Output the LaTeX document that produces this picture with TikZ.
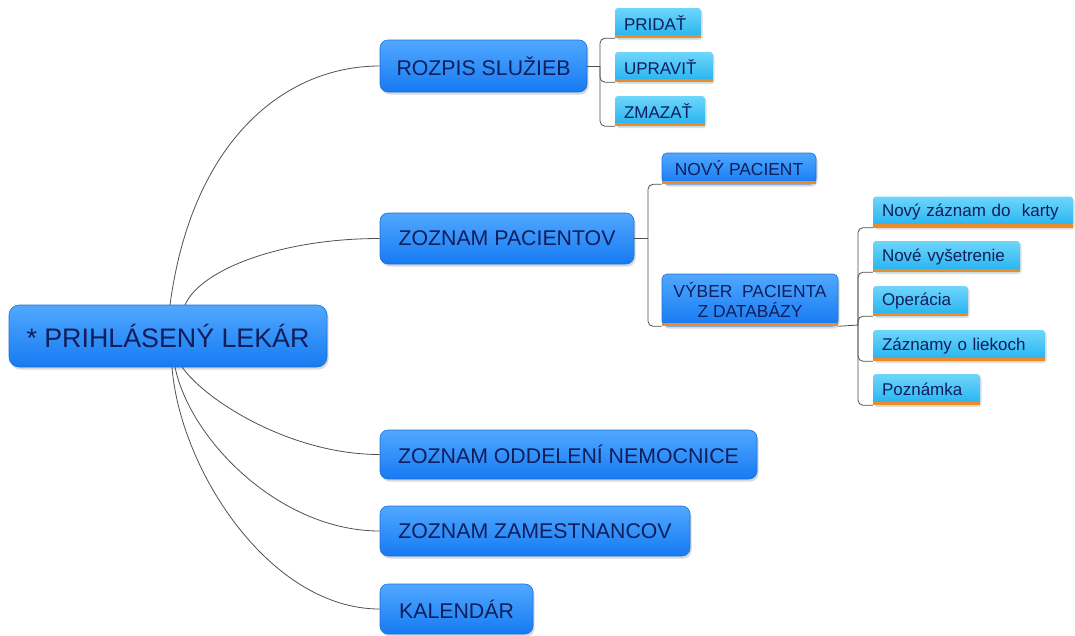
\documentclass[tikz,border=0pt]{standalone}
\usepackage{fontspec}
\setmainfont{Liberation Sans}
\usetikzlibrary{shadows}

\definecolor{navy}{RGB}{16,30,92}
\definecolor{linegray}{RGB}{80,80,80}
\definecolor{bluetop}{RGB}{80,168,255}
\definecolor{bluebot}{RGB}{22,122,242}
\definecolor{blueedge}{RGB}{30,110,215}
\definecolor{cyantop}{RGB}{110,214,250}
\definecolor{cyanbot}{RGB}{35,178,240}
\definecolor{tab}{RGB}{236,140,40}

\tikzset{
  mainbox/.style={rounded corners=8pt, top color=bluetop, bottom color=bluebot,
    draw=blueedge, line width=0.6pt, text=navy, inner sep=0pt,
    drop shadow={opacity=0.3, shadow xshift=1.5pt, shadow yshift=-2.5pt},
    font=\fontsize{21.3}{24}\selectfont},
  rootbox/.style={mainbox, rounded corners=10pt, font=\fontsize{26.8}{30}\selectfont},
  subbox/.style={mainbox, rounded corners=5pt, font=\fontsize{17.4}{19.5}\selectfont, align=center},
  leaf/.style 2 args={rounded corners=3pt, top color=cyantop, bottom color=cyanbot,
    text=navy, inner xsep=9pt, inner ysep=0pt, minimum height=#2,
    text width=#1-18pt, align=left,
    drop shadow={opacity=0.25, shadow xshift=1.5pt, shadow yshift=-2pt},
    font=\fontsize{17}{19}\selectfont},
  conn/.style={draw=linegray, line width=0.8pt},
  tabline/.style={draw=tab, line width=3.5pt},
}

\begin{document}
\begin{tikzpicture}[x=1pt, y=-1pt]
\useasboundingbox (0,0) rectangle (1075,635);

% central node and first-level branches
\node[rootbox, minimum width=318, minimum height=62] (root) at (168,336) {* PRIHLÁSENÝ LEKÁR};
\node[mainbox, minimum width=207, minimum height=52] (rozpis) at (483.5,66) {ROZPIS SLUŽIEB};
\node[mainbox, minimum width=254, minimum height=51] (pacienti) at (507,238.5) {ZOZNAM PACIENTOV};
\node[mainbox, minimum width=377, minimum height=49] (oddelenia) at (568.5,454.5) {ZOZNAM ODDELENÍ NEMOCNICE};
\node[mainbox, minimum width=310, minimum height=50] (zamestnanci) at (535,531) {ZOZNAM ZAMESTNANCOV};
\node[mainbox, minimum width=153, minimum height=50] (kalendar) at (456.5,609) {KALENDÁR};

% actions of the duty roster
\node[leaf={86pt}{30pt}] (pridat) at (658,23) {PRIDAŤ};
\node[leaf={98pt}{30pt}] (upravit) at (664,67) {UPRAVIŤ};
\node[leaf={90pt}{30pt}] (zmazat) at (660,111) {ZMAZAŤ};

% patient list
\node[subbox, minimum width=154, minimum height=31] (novy) at (739,168.5) {NOVÝ PACIENT};
\node[subbox, minimum width=176, minimum height=52] (vyber) at (750,300) {VÝBER\ \ PACIENTA\\Z DATABÁZY};

% records of the selected patient
\node[leaf={200pt}{31pt}] (zaznam) at (973,212) {Nový záznam do\ \ karty};
\node[leaf={147pt}{31pt}] (vysetrenie) at (946.5,256.5) {Nové vyšetrenie};
\node[leaf={95pt}{30pt}] (operacia) at (920.5,301) {Operácia};
\node[leaf={172pt}{31pt}] (lieky) at (959,345.5) {Záznamy o liekoch};
\node[leaf={107pt}{31pt}] (poznamka) at (926.5,389.5) {Poznámka};

% orange tabs under the sub-items
\foreach \n in {pridat,upravit,zmazat,novy,vyber,zaznam,vysetrenie,operacia,lieky,poznamka}
  \draw[tabline] ([yshift=1.75pt]\n.south west) -- ([yshift=1.75pt]\n.south east);

% curved branches from the central node
\coordinate (r1) at (170,305);
\coordinate (r2) at (185,305);
\coordinate (r3) at (182,367);
\coordinate (r4) at (175,367);
\coordinate (r5) at (172,367);
\draw[conn] (r1) .. controls (192,140) and (285,66) .. (rozpis.west);
\draw[conn] (r2) .. controls (200,270) and (280,238.5) .. (pacienti.west);
\draw[conn] (r3) .. controls (205,400) and (290,454.5) .. (oddelenia.west);
\draw[conn] (r4) .. controls (190,440) and (280,531) .. (zamestnanci.west);
\draw[conn] (r5) .. controls (180,470) and (270,609) .. (kalendar.west);

% elbow connectors to the sub-items
\coordinate (b1) at (600,66);
\draw[conn] (rozpis.east) -- (b1);
\foreach \n in {pridat,upravit,zmazat}
  \draw[conn, rounded corners=5pt] (b1) |- (\n.south west);

\coordinate (b2) at (648,238.5);
\draw[conn] (pacienti.east) -- (b2);
\foreach \n in {novy,vyber}
  \draw[conn, rounded corners=5pt] (b2) |- (\n.south west);

\coordinate (b3) at (858,325);
\draw[conn] (vyber.south east) -- (b3);
\foreach \n in {zaznam,vysetrenie,operacia,lieky,poznamka}
  \draw[conn, rounded corners=5pt] (b3) |- (\n.south west);
\end{tikzpicture}
\end{document}
